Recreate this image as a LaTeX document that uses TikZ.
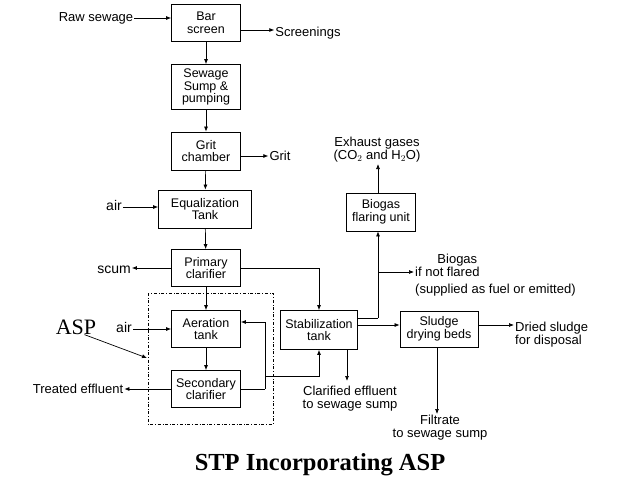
\documentclass[tikz,border=0pt]{standalone}
\usepackage{fontspec}
\setmainfont{Liberation Sans}
\newfontfamily\tnr{Liberation Serif}
\usetikzlibrary{arrows.meta}
\begin{document}
\begin{tikzpicture}[x=1pt,y=-1pt,
  box/.style={draw,line width=0.8pt,align=center,inner sep=1pt,font=\fontsize{12.5}{12.5}\selectfont},
  lbl/.style={align=center,inner sep=1pt,font=\fontsize{13}{13}\selectfont},
  ar/.style={-{Latex[length=5pt,width=4pt]},line width=0.7pt}]
\useasboundingbox (0,0) rectangle (638,479);
\node[box,minimum width=69,minimum height=37] (bar) at (206,23) {Bar\\screen};
\node[box,minimum width=69,minimum height=45] (sump) at (206,87) {Sewage\\Sump \&\\pumping};
\node[box,minimum width=69,minimum height=38] (grit) at (206,151) {Grit\\chamber};
\node[box,minimum width=93,minimum height=38] (eq) at (205,209) {Equalization\\Tank};
\node[box,minimum width=69,minimum height=37] (pc) at (206,268) {Primary\\clarifier};
\node[box,minimum width=69,minimum height=37] (at) at (206,329) {Aeration\\tank};
\node[box,minimum width=69,minimum height=37] (sc) at (206,389) {Secondary\\clarifier};
\node[box,minimum width=77,minimum height=39] (st) at (319,330) {Stabilization\\tank};
\node[box,minimum width=78,minimum height=36] (sd) at (439,329) {Sludge\\drying beds};
\node[box,minimum width=69,minimum height=38] (bf) at (381,212) {Biogas\\flaring unit};
\draw[dash dot,line width=0.5pt] (148,293) rectangle (273,424);
\node[lbl] (raw) at (96,18) {Raw sewage};
\node[lbl] (scr) at (308,33) {Screenings};
\node[lbl] (gr) at (280,156) {Grit};
\node[lbl,font=\fontsize{14}{14}\selectfont] (air1) at (114,205) {air};
\node[lbl,font=\fontsize{14}{14}\selectfont] (scum) at (114,270) {scum};
\node[lbl,font=\fontsize{14}{14}\selectfont] (air2) at (124,327) {air};
\node[font=\tnr\fontsize{22}{22}\selectfont,inner sep=0pt] (asp) at (76,327) {ASP};
\node[lbl] (te) at (78,389) {Treated effluent};
\node[lbl] (ce) at (350,399) {Clarified effluent\\to sewage sump};
\node[lbl,inner sep=0pt] (fi) at (440,428) {Filtrate\\to sewage sump};
\node[lbl,anchor=west,align=left] (ds) at (514,335) {Dried sludge\\for disposal};
\node[lbl,anchor=west] (bg) at (414,265) {\hspace*{20pt}Biogas\\if not flared};
\node[lbl,anchor=west] (sup) at (414,290) {(supplied as fuel or emitted)};
\node[lbl] (ex) at (377,150) {Exhaust gases\\(CO$_2$ and H$_2$O)};
\node[font=\tnr\bfseries\fontsize{24.5}{24.5}\selectfont] (title) at (320,465) {STP Incorporating ASP};
\coordinate (c1) at (378,318);
\coordinate (c2) at (265,389);
\draw[ar] (raw.east) -- (bar.west|-raw.east);
\draw[ar] (bar.east|-0,30) -- (scr.west|-0,30);
\draw[ar] (bar) -- (sump);
\draw[ar] (sump) -- (grit);
\draw[ar] (grit.east|-gr) -- (gr.west);
\draw[ar] (grit) -- (eq);
\draw[ar] (air1.east|-0,207) -- (eq.west|-0,207);
\draw[ar] (eq) -- (pc);
\draw[ar] (pc.west) -- (scum.east|-pc.west);
\draw[ar] (pc.east) -| (st.north);
\draw[ar] (pc) -- (at);
\draw[ar] (air2.east|-at.west) -- (at.west);
\draw[ar] (at) -- (sc);
\draw[ar] (sc.west) -- (te.east|-sc.west);
\draw[line width=0.7pt] (sc.east) -- (c2);
\draw[ar] (c2) |- (at.east|-0,322);
\draw[ar] (265,376) -| (st.south);
\draw[ar] (asp.south east) ++(-12,0) -- (147,358);
\draw[line width=0.7pt] (st.east|-c1) -- (c1);
\draw[ar] (c1) -- (bf.south-|c1);
\draw[ar] (378,272) -- (bg.west|-0,272);
\draw[ar] (st.east|-0,325) -- (sd.west|-0,325);
\draw[ar] (347,350) -- (347,381);
\draw[ar] (sd.east|-0,325) -- (ds.west|-0,325);
\draw[ar] (437,347) -- (437,414);
\draw[ar] (bf.north-|378,0) -- (378,164);
\end{tikzpicture}
\end{document}
